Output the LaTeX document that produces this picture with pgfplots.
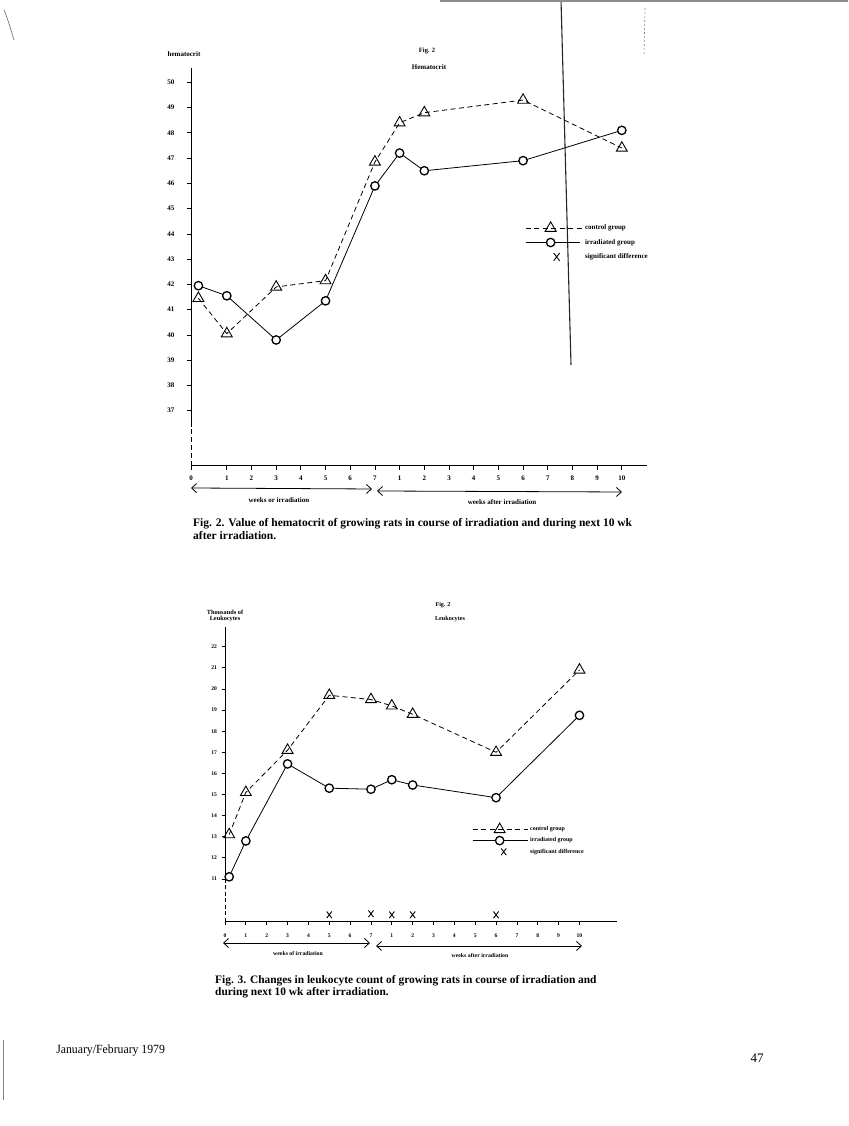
\documentclass[border=0pt]{standalone}
\usepackage{fontspec}
\setmainfont{Liberation Serif}
\usepackage{pgfplots}
\pgfplotsset{compat=1.18}
\usetikzlibrary{arrows.meta}

\pgfplotsset{
  ctrl/.style={black, line width=0.8pt, dash pattern=on 5pt off 3.5pt,
    mark=triangle, mark size=6.3pt, mark options={solid, fill=white, line width=0.9pt}},
  irr/.style={black, line width=0.8pt,
    mark=*, mark size=4.2pt, mark options={solid, fill=white, draw=black, line width=1.3pt}},
  sig/.style={black, only marks, mark=x, mark size=4.2pt, mark options={line width=0.9pt, yscale=1.3}},
  legline/.style n args={2}{legend image code/.code={
    \draw[mark repeat=2,mark phase=2,##1] plot coordinates {(0pt,0pt) (#1,0pt) (#2,0pt)};}},
  legmark/.style={legend image code/.code={
    \draw[##1] plot coordinates {(#1,0pt)};}},
  paperaxis/.style={
    scale only axis, clip=false,
    axis lines=left, axis line style={-, line width=1pt},
    y axis line style={draw=none},
    tick style={black, line width=0.8pt}, tick align=outside, major tick length=4pt,
    /pgf/number format/assume math mode=true,
    legend cell align=left,
  },
}

\begin{document}
\begin{tikzpicture}[x=1pt,y=1pt]
\fill[white] (0,0) rectangle (848,1126);

% scan artefacts
\draw[black!85, line width=1.1pt] (561,1126) -- (571,{1126-365});
\draw[black!45, line width=2pt] (440,1125) -- (848,1125);
\draw[black!50, line width=0.6pt, dash pattern=on 2pt off 2pt] (645,{1126-8}) -- (644,{1126-55});
\draw[black!60, line width=0.6pt] (4,{1126-10}) .. controls (8,{1126-20}) .. (14,{1126-40});
\draw[black!50, line width=0.8pt] (3,{1126-1040}) -- (3,{1126-1100});

% ---------------- Fig. 2 : hematocrit ----------------
\begin{axis}[paperaxis,
  at={(191pt,660pt)}, anchor=south west,
  width=456pt, height=398pt,
  xmin=-0.45, xmax=18.02, ymin=34.81, ymax=50.57,
  ytick={37,...,50},
  xtick={-0.45,1,2,...,17},
  xticklabels={0,1,2,3,4,5,6,7,1,2,3,4,5,6,7,8,9,10},
  ticklabel style={font=\fontsize{7}{8}\selectfont\bfseries},
  yticklabel style={xshift=-9pt},
  xticklabel style={yshift=-2pt},
  legend style={at={(axis cs:13.08,43.68)}, anchor=west, draw=none, fill=none,
    inner sep=0pt, row sep=4pt, font=\fontsize{7}{8}\selectfont\bfseries},
]
\addplot[ctrl, legline={25pt}{57pt}] coordinates {
  (-0.15,41.45) (1,40.05) (3,41.9) (5,42.15) (7,46.85)
  (8,48.4) (9,48.8) (13,49.3) (17,47.4)};
\addlegendentry{control group}
\addplot[irr, legline={25pt}{54pt}] coordinates {
  (-0.15,41.95) (1,41.55) (3,39.8) (5,41.35) (7,45.9)
  (8,47.2) (9,46.5) (13,46.9) (17,48.1)};
\addlegendentry{irradiated group}
\addlegendimage{sig, legmark={31pt}}
\addlegendentry{significant difference}

\draw[line width=1pt] (axis cs:-0.45,36.4) -- (axis cs:-0.45,50.57);
\draw[line width=1pt, dash pattern=on 5pt off 3pt] (axis cs:-0.45,34.81) -- (axis cs:-0.45,36.4);
\end{axis}

\node[font=\fontsize{7}{8}\selectfont\bfseries] at (184,{1126-54}) {hematocrit};
\node[font=\fontsize{6.5}{7}\selectfont\bfseries] at (427,{1126-51}) {Fig. 2};
\node[font=\fontsize{7}{8}\selectfont\bfseries] at (429,{1126-67}) {Hematocrit};

\draw[line width=0.8pt, {Straight Barb[length=5pt,width=9pt]}-{Straight Barb[length=5pt,width=9pt]}]
  (191,{1126-488}) -- (372,{1126-489});
\draw[line width=0.8pt, {Straight Barb[length=5pt,width=9pt]}-{Straight Barb[length=5pt,width=9pt]}]
  (377,{1126-491}) -- (622,{1126-492});
\node[font=\fontsize{7}{8}\selectfont\bfseries] at (279,{1126-500}) {weeks or irradiation};
\node[font=\fontsize{7}{8}\selectfont\bfseries] at (502,{1126-502.5}) {weeks after irradiation};

\node[anchor=north west, align=left, inner sep=0pt,
  font=\fontsize{11.5}{13}\selectfont\bfseries] at (193,{1126-518}) {Fig. 2. Value of hematocrit of growing rats in course of irradiation and during next 10 wk\\after irradiation.};

% ---------------- Fig. 3 : leukocytes ----------------
\begin{axis}[paperaxis,
  at={(225pt,204pt)}, anchor=south west,
  width=392pt, height=295.3pt,
  xmin=0, xmax=18.8, ymin=8.96, ymax=22.95,
  ytick={11,...,22},
  xtick={0,1,...,17},
  xticklabels={0,1,2,3,4,5,6,7,1,2,3,4,5,6,7,8,9,10},
  ticklabel style={font=\fontsize{5.6}{6.5}\selectfont\bfseries},
  major tick length=3.5pt,
  yticklabel style={xshift=-1pt},
  xticklabel style={yshift=-5pt},
  legend style={at={(axis cs:11.85,12.85)}, anchor=west, draw=none, fill=none,
    inner sep=0pt, row sep=1.5pt, font=\fontsize{6}{7}\selectfont\bfseries},
]
\addplot[ctrl, legline={27pt}{55pt}] coordinates {
  (0.2,13.1) (1,15.1) (3,17.1) (5,19.7) (7,19.5)
  (8,19.2) (9,18.8) (13,17.0) (17,20.9)};
\addlegendentry{control group}
\addplot[irr, legline={27pt}{55pt}] coordinates {
  (0.2,11.1) (1,12.8) (3,16.45) (5,15.3) (7,15.25)
  (8,15.7) (9,15.45) (13,14.85) (17,18.75)};
\addlegendentry{irradiated group}
\addplot[sig, mark size=3.6pt, legmark={31pt}] coordinates {
  (5,9.3) (7,9.35) (8,9.3) (9,9.3) (13,9.3)};
\addlegendentry{significant difference}

\draw[line width=1pt] (axis cs:0,10.8) -- (axis cs:0,22.95);
\draw[line width=1pt, dash pattern=on 4pt off 2.5pt] (axis cs:0,8.96) -- (axis cs:0,10.8);
\end{axis}

\node[font=\fontsize{6.3}{6.5}\selectfont\bfseries, align=center, inner sep=0pt] at (225,{1126-616}) {Thousands of\\Leukocytes};
\node[font=\fontsize{6}{7}\selectfont\bfseries] at (443,{1126-605}) {Fig. 2};
\node[font=\fontsize{6.2}{7}\selectfont\bfseries] at (450,{1126-619}) {Leukocytes};

\draw[line width=0.8pt, {Straight Barb[length=5pt,width=9pt]}-{Straight Barb[length=5pt,width=9pt]}]
  (223,{1126-943}) -- (370,{1126-943});
\draw[line width=0.8pt, {Straight Barb[length=5pt,width=9pt]}-{Straight Barb[length=5pt,width=9pt]}]
  (376,{1126-946}) -- (582,{1126-946});
\node[font=\fontsize{5.8}{7}\selectfont\bfseries] at (298,{1126-953}) {weeks of irradiation};
\node[font=\fontsize{5.8}{7}\selectfont\bfseries] at (480,{1126-955.5}) {weeks after irradiation};

\node[anchor=north west, align=left, inner sep=0pt,
  font=\fontsize{11.4}{12.2}\selectfont\bfseries] at (215,{1126-975}) {Fig. 3. Changes in leukocyte count of growing rats in course of irradiation and\\during next 10 wk after irradiation.};

% ---------------- page footer ----------------
\node[anchor=west, font=\fontsize{12.5}{14}\selectfont, xscale=0.94] at (53,{1126-1051}) {January/February 1979};
\node[font=\fontsize{13}{14}\selectfont] at (757,{1126-1058}) {47};

\pgfresetboundingbox
\path[use as bounding box] (0,0) rectangle (848,1126);
\end{tikzpicture}
\end{document}
